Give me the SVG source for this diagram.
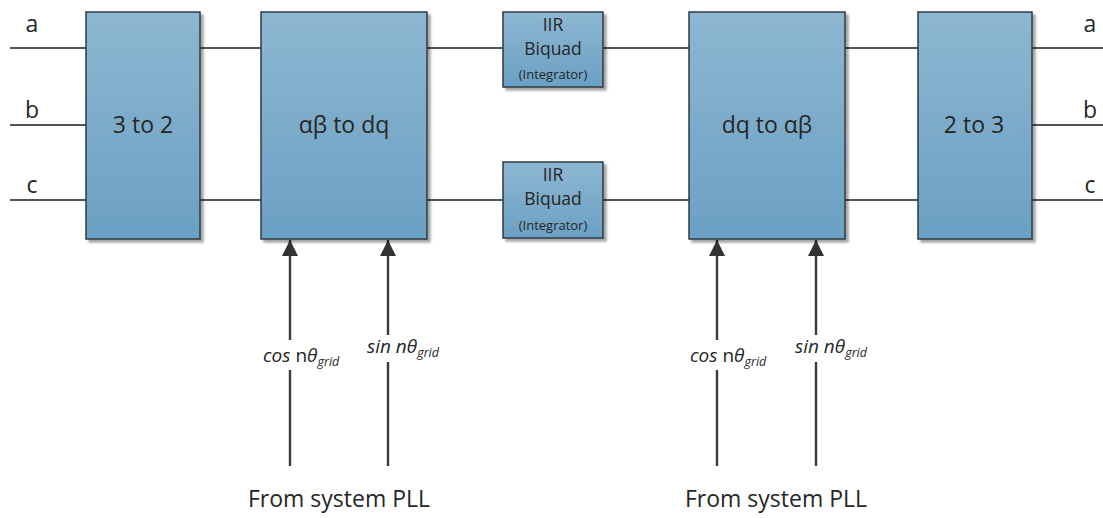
<svg xmlns="http://www.w3.org/2000/svg" width="1103" height="518" viewBox="0 0 1103 518">
  <defs>
    <linearGradient id="boxFill" x1="0" y1="0" x2="0" y2="1">
      <stop offset="0" stop-color="#8db7d1"/>
      <stop offset="1" stop-color="#6ba0c4"/>
    </linearGradient>
    <filter id="shadow" x="-10%" y="-10%" width="130%" height="130%">
      <feGaussianBlur in="SourceAlpha" stdDeviation="1"/>
      <feOffset dx="3" dy="3" result="off"/>
      <feComponentTransfer><feFuncA type="linear" slope="0.35"/></feComponentTransfer>
      <feMerge><feMergeNode/><feMergeNode in="SourceGraphic"/></feMerge>
    </filter>
    <marker id="arrowHead" markerWidth="17" markerHeight="16" refX="16" refY="8" orient="auto" markerUnits="userSpaceOnUse" viewBox="0 0 17 16">
      <path d="M0,0 L16,8 L0,16 Z" fill="#333"/>
    </marker>
  </defs>
  <style>
    .box { fill: url(#boxFill); stroke: #2e3b44; stroke-width: 1.5; filter: url(#shadow); }
    .wire { stroke: #1a1a1a; stroke-width: 1.6; fill: none; }
    .feed { stroke: #3a3a3a; stroke-width: 2.4; fill: none; }
    text { font-family: "Open Sans", "Liberation Sans", sans-serif; fill: #262626; }
    .big { font-size: 23px; text-anchor: middle; }
    .io { font-size: 23px; text-anchor: middle; }
    .iir { font-size: 17.5px; text-anchor: middle; }
    .small { font-size: 13px; text-anchor: middle; }
    .sig { font-size: 19px; }
    .it { font-style: italic; }
    .sub { font-size: 12.5px; font-style: italic; }
    .src { font-size: 23px; text-anchor: middle; }
  </style>

  <!-- signal wiring -->
  <g id="connectors">
    <!-- inputs a, b, c -->
    <line class="wire" x1="10" y1="48" x2="86" y2="48"/>
    <line class="wire" x1="10" y1="125" x2="86" y2="125"/>
    <line class="wire" x1="10" y1="200" x2="86" y2="200"/>
    <!-- 3 to 2 -> alpha-beta to dq -->
    <line class="wire" x1="200" y1="48" x2="261" y2="48"/>
    <line class="wire" x1="200" y1="200" x2="261" y2="200"/>
    <!-- through the integrators -->
    <line class="wire" x1="427" y1="48" x2="503" y2="48"/>
    <line class="wire" x1="603" y1="48" x2="689" y2="48"/>
    <line class="wire" x1="427" y1="200" x2="503" y2="200"/>
    <line class="wire" x1="603" y1="200" x2="689" y2="200"/>
    <!-- dq to alpha-beta -> 2 to 3 -->
    <line class="wire" x1="845" y1="48" x2="918" y2="48"/>
    <line class="wire" x1="845" y1="200" x2="918" y2="200"/>
    <!-- outputs a, b, c -->
    <line class="wire" x1="1032" y1="48" x2="1103" y2="48"/>
    <line class="wire" x1="1032" y1="125" x2="1103" y2="125"/>
    <line class="wire" x1="1032" y1="200" x2="1103" y2="200"/>

    <!-- angle feeds from the PLL -->
    <line class="feed" x1="290" y1="340" x2="290" y2="240" marker-end="url(#arrowHead)"/>
    <line class="feed" x1="290" y1="370" x2="290" y2="466"/>
    <line class="feed" x1="388" y1="335" x2="388" y2="240" marker-end="url(#arrowHead)"/>
    <line class="feed" x1="388" y1="362" x2="388" y2="466"/>
    <line class="feed" x1="717" y1="340" x2="717" y2="240" marker-end="url(#arrowHead)"/>
    <line class="feed" x1="717" y1="370" x2="717" y2="466"/>
    <line class="feed" x1="816" y1="335" x2="816" y2="240" marker-end="url(#arrowHead)"/>
    <line class="feed" x1="816" y1="362" x2="816" y2="466"/>
  </g>

  <!-- port labels -->
  <g id="ports">
    <text class="io" x="32" y="32">a</text>
    <text class="io" x="32" y="118">b</text>
    <text class="io" x="32" y="193">c</text>
    <text class="io" x="1090" y="32">a</text>
    <text class="io" x="1090" y="118">b</text>
    <text class="io" x="1090" y="193">c</text>
  </g>

  <g id="node-3to2">
    <rect class="box" x="86" y="12" width="114" height="227"/>
    <text class="big" x="143" y="133">3 to 2</text>
  </g>

  <g id="node-ab-to-dq">
    <rect class="box" x="261" y="12" width="166" height="227"/>
    <text class="big" x="344" y="133">αβ to dq</text>
  </g>

  <g id="node-iir-d">
    <rect class="box" x="503" y="12" width="100" height="75"/>
    <text class="iir" x="553" y="31">IIR</text>
    <text class="iir" x="553" y="55">Biquad</text>
    <text class="small" x="553" y="79">(Integrator)</text>
  </g>

  <g id="node-iir-q">
    <rect class="box" x="503" y="162" width="100" height="76"/>
    <text class="iir" x="553" y="181">IIR</text>
    <text class="iir" x="553" y="205">Biquad</text>
    <text class="small" x="553" y="230">(Integrator)</text>
  </g>

  <g id="node-dq-to-ab">
    <rect class="box" x="689" y="12" width="156" height="227"/>
    <text class="big" x="767" y="133">dq to αβ</text>
  </g>

  <g id="node-2to3">
    <rect class="box" x="918" y="12" width="114" height="227"/>
    <text class="big" x="974" y="133">2 to 3</text>
  </g>

  <!-- feed labels -->
  <g id="feed-labels">
    <text class="sig" x="263" y="362"><tspan class="it">cos</tspan> n<tspan class="it">θ</tspan><tspan class="sub" dy="4">grid</tspan></text>
    <text class="sig" x="367" y="353"><tspan class="it">sin nθ</tspan><tspan class="sub" dy="4">grid</tspan></text>
    <text class="sig" x="690" y="362"><tspan class="it">cos</tspan> n<tspan class="it">θ</tspan><tspan class="sub" dy="4">grid</tspan></text>
    <text class="sig" x="795" y="353"><tspan class="it">sin nθ</tspan><tspan class="sub" dy="4">grid</tspan></text>
    <text class="src" x="339" y="507">From system PLL</text>
    <text class="src" x="776" y="507">From system PLL</text>
  </g>
</svg>
